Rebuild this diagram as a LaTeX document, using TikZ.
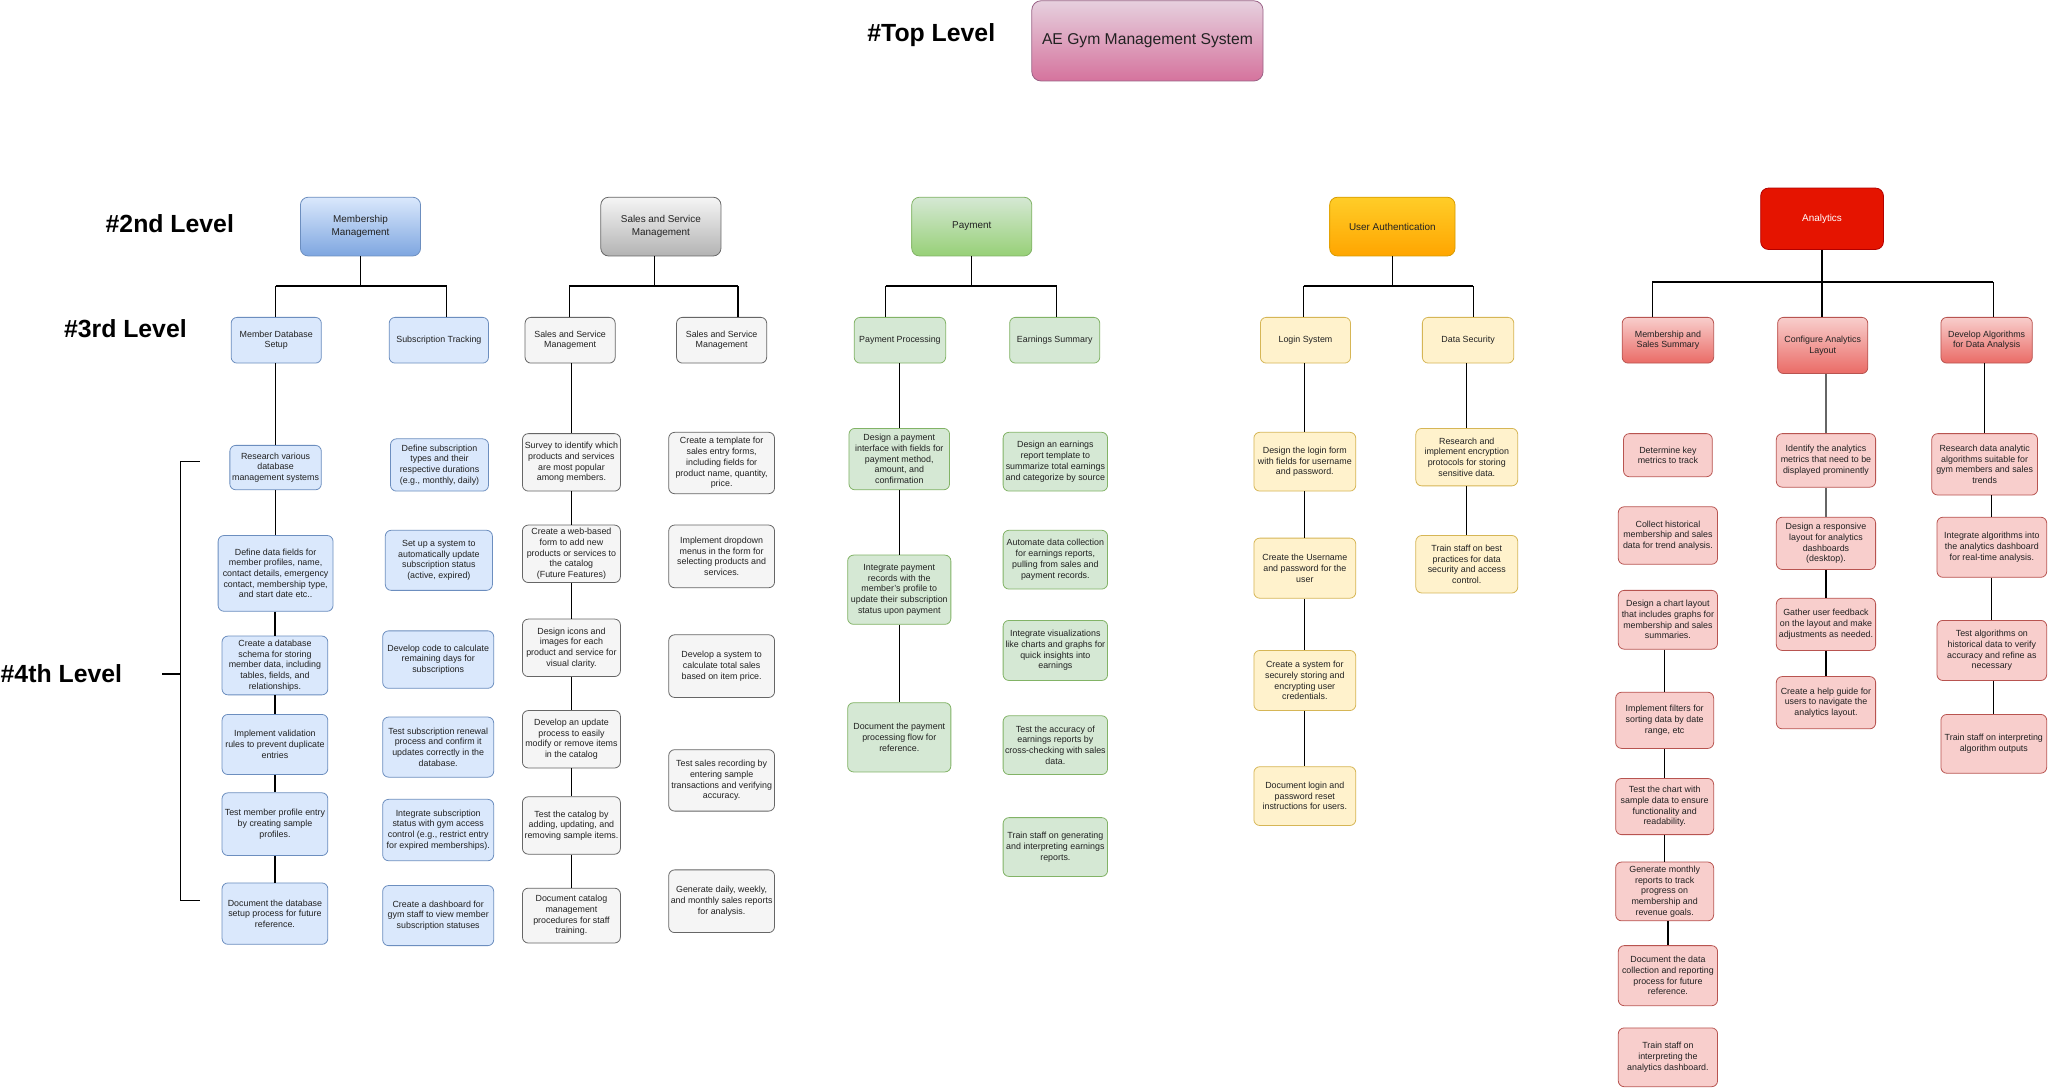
\documentclass[tikz,border=0pt]{standalone}
\usepackage{fontspec}
\setmainfont{Liberation Sans}
\definecolor{memF}{HTML}{DAE8FC}
\definecolor{memD}{HTML}{6C8EBF}
\definecolor{memG}{HTML}{7EA6E0}
\definecolor{grF}{HTML}{F5F5F5}
\definecolor{grD}{HTML}{666666}
\definecolor{grG}{HTML}{B3B3B3}
\definecolor{payF}{HTML}{D5E8D4}
\definecolor{payD}{HTML}{82B366}
\definecolor{payG}{HTML}{97D077}
\definecolor{uaF}{HTML}{FFF2CC}
\definecolor{uaD}{HTML}{D6B656}
\definecolor{uaT}{HTML}{FFCD28}
\definecolor{uaB}{HTML}{FFA500}
\definecolor{uaBD}{HTML}{D79B00}
\definecolor{anF}{HTML}{F8CECC}
\definecolor{anD}{HTML}{B85450}
\definecolor{anG}{HTML}{EA6B66}
\definecolor{anR}{HTML}{E51400}
\definecolor{anRD}{HTML}{B20000}
\definecolor{topT}{HTML}{E6D0DE}
\definecolor{topB}{HTML}{D5739D}
\definecolor{topD}{HTML}{996185}
\definecolor{txt}{HTML}{222222}
\newcommand\ffour{\fontsize{6.8pt}{8.2pt}\selectfont}
\newcommand\fthree{\fontsize{6.8pt}{8.2pt}\selectfont}
\newcommand\ftwo{\fontsize{7.6pt}{10pt}\selectfont}
\newcommand\flvl{\fontsize{19pt}{22pt}\selectfont\bfseries}
\newcommand\bx[7]{%
 \pgfmathsetmacro\bxX{(#3+#5)/2}%
 \pgfmathsetmacro\bxY{(#4+#6)/2}%
 \pgfmathsetmacro\bxW{#5-#3}%
 \pgfmathsetmacro\bxH{#6-#4}%
 \node[#1,minimum width=\bxW pt,minimum height=\bxH pt] (#2) at (\bxX,\bxY) {#7};%
}
\tikzset{
 bxs/.style={draw, rounded corners=4.5pt, align=center, inner sep=1pt, line width=0.6pt, text=txt},
 memb/.style={bxs, font=\ffour, fill=memF, draw=memD},
 grayb/.style={bxs, font=\ffour, fill=grF, draw=grD},
 payb/.style={bxs, font=\ffour, fill=payF, draw=payD},
 uab/.style={bxs, font=\ffour, fill=uaF, draw=uaD},
 anb/.style={bxs, font=\ffour, fill=anF, draw=anD},
 anhb/.style={bxs, font=\fthree, top color=anF, bottom color=anG, draw=anD},
 ltwo/.style={bxs, font=\ftwo, rounded corners=6pt},
 conn/.style={line width=0.9pt, black},
 busline/.style={line width=1.6pt, black},
 lvl/.style={font=\flvl, inner sep=0pt},
}
\begin{document}
\begin{tikzpicture}[x=1pt,y=-1pt]
\path[use as bounding box, fill=white] (0,0) rectangle (1568,834);

% level labels
\node[lvl] (ltop) at (713,27) {\#Top Level};
\node[lvl] (l2) at (130,171) {\#2nd Level};
\node[lvl] (l3) at (96,252) {\#3rd Level};
\node[lvl] (l4) at (47,516) {\#4th Level};

% top
\bx{bxs, font=\fontsize{12pt}{14pt}\selectfont, top color=topT, bottom color=topB, draw=topD, rounded corners=7pt}{top}{790}{0.6}{967}{62}{AE Gym Management System}

% level 2
\bx{ltwo, top color=memF, bottom color=memG, draw=memD}{mm}{230}{151}{322}{196}{Membership\\Management}
\bx{ltwo, top color=grF, bottom color=grG, draw=grD}{ss}{460}{151}{552}{196}{Sales and Service\\Management}
\bx{ltwo, top color=payF, bottom color=payG, draw=payD}{pay}{698}{151}{790}{196}{Payment}
\bx{ltwo, top color=uaT, bottom color=uaB, draw=uaBD}{ua}{1018}{151}{1114}{196}{User Authentication}
\bx{ltwo, fill=anR, draw=anRD, text=white}{an}{1348}{144}{1442}{191}{Analytics}

% level 3
\bx{memb, font=\fthree}{mdb}{177}{243}{246}{278}{Member Database\\Setup}
\bx{memb, font=\fthree}{st}{298}{243}{374}{278}{Subscription Tracking}
\bx{grayb, font=\fthree}{ssa}{402}{243}{471}{278}{Sales and Service\\Management}
\bx{grayb, font=\fthree}{ssb}{518}{243}{587}{278}{Sales and Service\\Management}
\bx{payb, font=\fthree}{pp}{654}{243}{724}{278}{Payment Processing}
\bx{payb, font=\fthree}{es}{773}{243}{842}{278}{Earnings Summary}
\bx{uab, font=\fthree}{ls}{965}{243}{1034}{278}{Login System}
\bx{uab, font=\fthree}{ds}{1089}{243}{1159}{278}{Data Security}
\bx{anhb}{msa}{1242}{243}{1312}{278}{Membership and\\Sales Summary}
\bx{anhb}{cal}{1361}{243}{1430}{286}{Configure Analytics\\Layout}
\bx{anhb}{dal}{1486}{243}{1556}{278}{Develop Algorithms\\for Data Analysis}

% level 4: membership
\bx{memb}{mdb1}{176}{341}{246}{375}{Research various\\database\\management systems}
\bx{memb}{mdb2}{167}{410}{255}{468}{Define data fields for\\member profiles, name,\\contact details, emergency\\contact, membership type,\\and start date etc..}
\bx{memb}{mdb3}{170}{487}{251}{532}{Create a database\\schema for storing\\member data, including\\tables, fields, and\\relationships.}
\bx{memb}{mdb4}{170}{547}{251}{593}{Implement validation\\rules to prevent duplicate\\entries}
\bx{memb}{mdb5}{170}{607}{251}{655}{Test member profile entry\\by creating sample\\profiles.}
\bx{memb}{mdb6}{170}{676}{251}{723}{Document the database\\setup process for future\\reference.}

\bx{memb}{st1}{299}{336}{374}{376}{Define subscription\\types and their\\respective durations\\(e.g., monthly, daily)}
\bx{memb}{st2}{295}{406}{377}{452}{Set up a system to\\automatically update\\subscription status\\(active, expired)}
\bx{memb}{st3}{293}{483}{378}{527}{Develop code to calculate\\remaining days for\\subscriptions}
\bx{memb}{st4}{293}{549}{378}{595}{Test subscription renewal\\process and confirm it\\updates correctly in the\\database.}
\bx{memb}{st5}{293}{612}{378}{659}{Integrate subscription\\status with gym access\\control (e.g., restrict entry\\for expired memberships).}
\bx{memb}{st6}{293}{678}{378}{724}{Create a dashboard for\\gym staff to view member\\subscription statuses}

% level 4: sales
\bx{grayb}{ssa1}{400}{332}{475}{376}{Survey to identify which\\products and services\\are most popular\\among members.}
\bx{grayb}{ssa2}{400}{402}{475}{446}{Create a web-based\\form to add new\\products or services to\\the catalog\\(Future Features)}
\bx{grayb}{ssa3}{400}{474}{475}{518}{Design icons and\\images for each\\product and service for\\visual clarity.}
\bx{grayb}{ssa4}{400}{544}{475}{588}{Develop an update\\process to easily\\modify or remove items\\in the catalog}
\bx{grayb}{ssa5}{400}{610}{475}{654}{Test the catalog by\\adding, updating, and\\removing sample items.}
\bx{grayb}{ssa6}{400}{680}{475}{722}{Document catalog\\management\\procedures for staff\\training.}

\bx{grayb}{ssb1}{512}{331}{593}{378}{Create a template for\\sales entry forms,\\including fields for\\product name, quantity,\\price.}
\bx{grayb}{ssb2}{512}{402}{593}{450}{Implement dropdown\\menus in the form for\\selecting products and\\services.}
\bx{grayb}{ssb3}{512}{486}{593}{534}{Develop a system to\\calculate total sales\\based on item price.}
\bx{grayb}{ssb4}{512}{574}{593}{621}{Test sales recording by\\entering sample\\transactions and verifying\\accuracy.}
\bx{grayb}{ssb5}{512}{666}{593}{714}{Generate daily, weekly,\\and monthly sales reports\\for analysis.}

% level 4: payment
\bx{payb}{pp1}{650}{328}{727}{375}{Design a payment\\interface with fields for\\payment method,\\amount, and\\confirmation}
\bx{payb}{pp2}{649}{425}{728}{478}{Integrate payment\\records with the\\member's profile to\\update their subscription\\status upon payment}
\bx{payb}{pp3}{649}{538}{728}{591}{Document the payment\\processing flow for\\reference.}

\bx{payb}{es1}{768}{331}{848}{376}{Design an earnings\\report template to\\summarize total earnings\\and categorize by source}
\bx{payb}{es2}{768}{406}{848}{451}{Automate data collection\\for earnings reports,\\pulling from sales and\\payment records.}
\bx{payb}{es3}{768}{475}{848}{521}{Integrate visualizations\\like charts and graphs for\\quick insights into\\earnings}
\bx{payb}{es4}{768}{548}{848}{593}{Test the accuracy of\\earnings reports by\\cross-checking with sales\\data.}
\bx{payb}{es5}{768}{626}{848}{671}{Train staff on generating\\and interpreting earnings\\reports.}

% level 4: user authentication
\bx{uab}{ls1}{960}{331}{1038}{376}{Design the login form\\with fields for username\\and password.}
\bx{uab}{ls2}{960}{412}{1038}{458}{Create the Username\\and password for the\\user}
\bx{uab}{ls3}{960}{498}{1038}{544}{Create a system for\\securely storing and\\encrypting user\\credentials.}
\bx{uab}{ls4}{960}{587}{1038}{632}{Document login and\\password reset\\instructions for users.}

\bx{uab}{ds1}{1084}{328}{1162}{372}{Research and\\implement encryption\\protocols for storing\\sensitive data.}
\bx{uab}{ds2}{1084}{410}{1162}{454}{Train staff on best\\practices for data\\security and access\\control.}

% level 4: analytics
\bx{anb}{msa1}{1243}{332}{1311}{365}{Determine key\\metrics to track}
\bx{anb}{msa2}{1239}{388}{1315}{432}{Collect historical\\membership and sales\\data for trend analysis.}
\bx{anb}{msa3}{1239}{452}{1315}{497}{Design a chart layout\\that includes graphs for\\membership and sales\\summaries.}
\bx{anb}{msa4}{1237}{530}{1312}{573}{Implement filters for\\sorting data by date\\range, etc}
\bx{anb}{msa5}{1237}{596}{1312}{639}{Test the chart with\\sample data to ensure\\functionality and\\readability.}
\bx{anb}{msa6}{1237}{660}{1312}{705}{Generate monthly\\reports to track\\progress on\\membership and\\revenue goals.}
\bx{anb}{msa7}{1239}{724}{1315}{770}{Document the data\\collection and reporting\\process for future\\reference.}
\bx{anb}{msa8}{1239}{787}{1315}{832}{Train staff on\\interpreting the\\analytics dashboard.}

\bx{anb}{cal1}{1360}{332}{1436}{373}{Identify the analytics\\metrics that need to be\\displayed prominently}
\bx{anb}{cal2}{1360}{396}{1436}{436}{Design a responsive\\layout for analytics\\dashboards\\(desktop).}
\bx{anb}{cal3}{1360}{458}{1436}{498}{Gather user feedback\\on the layout and make\\adjustments as needed.}
\bx{anb}{cal4}{1360}{518}{1436}{558}{Create a help guide for\\users to navigate the\\analytics layout.}

\bx{anb}{dal1}{1479}{332}{1560}{379}{Research data analytic\\algorithms suitable for\\gym members and sales\\trends}
\bx{anb}{dal2}{1483}{396}{1567}{442}{Integrate algorithms into\\the analytics dashboard\\for real-time analysis.}
\bx{anb}{dal3}{1483}{475}{1567}{521}{Test algorithms on\\historical data to verify\\accuracy and refine as\\necessary}
\bx{anb}{dal4}{1486}{547}{1567}{592}{Train staff on interpreting\\algorithm outputs}

% bus coordinates
\coordinate (mmV) at (276,219); \coordinate (mmL) at (211,219); \coordinate (mmR) at (342,219);
\coordinate (ssV) at (501,219); \coordinate (ssL) at (436,219); \coordinate (ssR) at (565,219);
\coordinate (payV) at (744,219); \coordinate (payL) at (678,219); \coordinate (payR) at (809,219);
\coordinate (uaV) at (1066,219); \coordinate (uaL) at (998,219); \coordinate (uaR) at (1128,219);
\coordinate (anV) at (1395,216); \coordinate (anL) at (1265,216); \coordinate (anR) at (1526,216);

% L2 -> bus
\draw[conn] (mmV |- mm.south) -- (mmV);
\draw[conn] (ssV |- ss.south) -- (ssV);
\draw[conn] (payV |- pay.south) -- (payV);
\draw[conn] (uaV |- ua.south) -- (uaV);
\draw[conn] (anV |- an.south) -- (anV);
\draw[busline] (mmL) -- (mmR);
\draw[busline] (ssL) -- (ssR);
\draw[busline] (payL) -- (payR);
\draw[busline] (uaL) -- (uaR);
\draw[busline] (anL) -- (anR);
% bus -> L3
\draw[conn] (mmL) -- (mmL |- mdb.north);
\draw[conn] (mmR) -- (mmR |- st.north);
\draw[conn] (ssL) -- (ssL |- ssa.north);
\draw[conn] (ssR) -- (ssR |- ssb.north);
\draw[conn] (payL) -- (payL |- pp.north);
\draw[conn] (payR) -- (payR |- es.north);
\draw[conn] (uaL) -- (uaL |- ls.north);
\draw[conn] (uaR) -- (uaR |- ds.north);
\draw[conn] (anL) -- (anL |- msa.north);
\draw[conn] (anV) -- (anV |- cal.north);
\draw[conn] (anR) -- (anR |- dal.north);

% L3 -> L4 chains
\foreach \a/\b in {mdb/mdb1, mdb1/mdb2, mdb2/mdb3, mdb3/mdb4, mdb4/mdb5, mdb5/mdb6,
  ssa/ssa1, ssa1/ssa2, ssa2/ssa3, ssa3/ssa4, ssa4/ssa5, ssa5/ssa6,
  pp/pp1, pp1/pp2, pp2/pp3,
  ls/ls1, ls1/ls2, ls2/ls3, ls3/ls4,
  ds/ds1, ds1/ds2,
  msa3/msa4, msa4/msa5, msa5/msa6, msa6/msa7,
  cal2/cal3, cal3/cal4,
  dal/dal1, dal1/dal2, dal2/dal3, dal3/dal4}
  {\draw[conn] (\b.north |- \a.south) -- (\b.north);}
\draw[line width=1.3pt, black!60] (cal1.north |- cal.south) -- (cal1.north);
\draw[line width=1.3pt, black!60] (cal2.north |- cal1.south) -- (cal2.north);

% bracket for 4th level
\draw[conn] (153,353.5) -- (138,353.5) -- (138,689.5) -- (153,689.5);
\draw[conn] (138,516) -- (124,516);
\end{tikzpicture}
\end{document}
